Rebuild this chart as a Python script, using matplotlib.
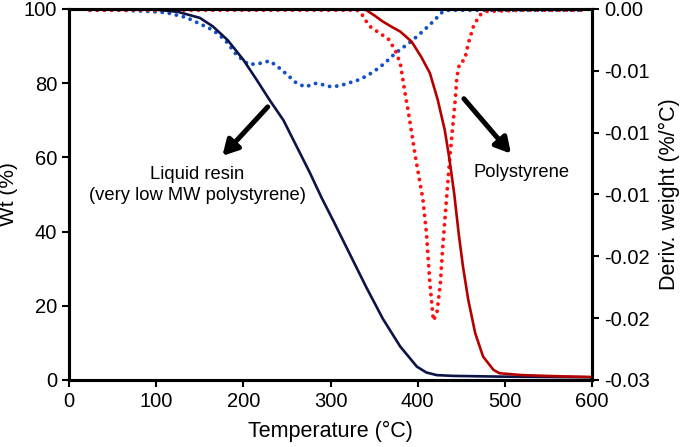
import matplotlib
matplotlib.use("Agg")
import matplotlib.pyplot as plt

plt.rcParams['font.family'] = ['Liberation Sans', 'DejaVu Sans']

# TGA weight curves (left axis, %)
T_resin = [25, 50, 75, 100, 125, 150, 165, 182, 200, 215, 230, 246, 261, 276, 290,
           303, 322, 341, 360, 380, 392, 399, 410, 422, 440, 494, 550, 600]
wt_resin = [100, 100, 100, 99.8, 99.2, 97.6, 95.3, 91.6, 86.3, 81, 75.5, 70, 63, 56,
            49, 43, 34, 25, 16.5, 9, 5.6, 3.6, 2.0, 1.3, 1.1, 0.9, 0.8, 0.7]

T_ps = [25, 100, 200, 300, 335, 341, 350, 360, 370, 380, 393, 404, 414, 423, 431,
        436, 442, 447, 452, 458, 466, 475, 487, 494, 520, 560, 600]
wt_ps = [100, 100, 100, 100, 100, 99.7, 98.3, 96.6, 95.2, 93.9, 91.2, 87.1, 82.7,
         75.5, 67.4, 60.2, 50, 39.5, 30.5, 21.6, 12.6, 6.3, 2.7, 1.8, 1.3, 1.0, 0.8]

# Derivative curves (right axis, %/°C)
T_dres = [24, 60, 93, 112, 135, 150, 165, 179, 192, 206, 219, 230, 240, 250, 261,
          271, 284, 301, 311, 334, 349, 362, 374, 393, 406, 418, 429, 436, 500,
          550, 592]
d_res = [-0.0001, -0.0001, -0.0002, -0.0003, -0.0007, -0.0012, -0.0017, -0.0025,
         -0.0037, -0.0045, -0.0044, -0.0042, -0.0047, -0.0053, -0.0060, -0.0063,
         -0.0060, -0.0063, -0.0062, -0.0057, -0.0051, -0.0044, -0.0036, -0.0026,
         -0.0018, -0.0010, -0.0002, -0.0001, -0.0001, -0.0001, -0.0001]

T_dps = [24, 100, 200, 300, 330, 334, 340, 345, 357, 366, 374, 380, 385, 389, 393,
         398, 406, 410, 414, 418, 422, 426, 429, 433, 437, 443, 445, 448, 454, 458,
         464, 471, 479, 520, 560, 590]
d_ps = [-0.0001, -0.0001, -0.0001, -0.0001, -0.0001, -0.0002, -0.0009, -0.0014,
        -0.0020, -0.0024, -0.0033, -0.0044, -0.0066, -0.0082, -0.0100, -0.0122,
        -0.0154, -0.0181, -0.0222, -0.0252, -0.0246, -0.0222, -0.0190, -0.0154,
        -0.0119, -0.0074, -0.0055, -0.0044, -0.0041, -0.0028, -0.0014, -0.0005,
        -0.0002, -0.0001, -0.0001, -0.0001]

x_ticks = [0, 100, 200, 300, 400, 500, 600]
y_ticks = [0, 20, 40, 60, 80, 100]
d_ticks = [0.0, -0.005, -0.010, -0.015, -0.020, -0.025, -0.030]
d_tick_labels = ["0.00", "-0.01", "-0.01", "-0.01", "-0.02", "-0.02", "-0.03"]

fig = plt.figure(figsize=(6.85, 4.47), dpi=100)
ax = fig.add_axes([0.1007, 0.150, 0.7636, 0.830])
ax2 = ax.twinx()

navy = "#0b1446"
dred = "#b50000"
blue = "#1050c8"
red = "#ff1010"

dot = (0, (0.01, 1.85))
ax2.plot(T_dres, d_res, color=blue, lw=2.8, linestyle=dot, dash_capstyle='round', zorder=2)
ax2.plot(T_dps, d_ps, color=red, lw=2.8, linestyle=dot, dash_capstyle='round', zorder=2)

ax.set_zorder(ax2.get_zorder() + 1)
ax.patch.set_visible(False)
ax.plot(T_resin, wt_resin, color=navy, lw=1.9, solid_capstyle='round', solid_joinstyle='round')
ax.plot(T_ps, wt_ps, color=dred, lw=1.9, solid_capstyle='round', solid_joinstyle='round')

ax.set_xlim(0, 600)
ax.set_ylim(0, 100)
ax2.set_ylim(-0.030, 0.0)
ax.set_xticks(x_ticks)
ax.set_yticks(y_ticks)
ax2.set_yticks(d_ticks)
ax2.set_yticklabels(d_tick_labels)

for a in (ax, ax2):
    for s in a.spines.values():
        s.set_linewidth(2.2)
    a.tick_params(direction='out', length=5, width=1.5, labelsize=14.5, colors='black')

ax.set_xlabel("Temperature (°C)", fontsize=15.5, labelpad=7)
ax.set_ylabel("Wt (%)", fontsize=15)
ax.yaxis.set_label_coords(-0.098, 0.5)
ax2.set_ylabel("Deriv. weight (%/°C)", fontsize=15.5, labelpad=7)

arrow_style = dict(arrowstyle="-|>,head_width=0.5,head_length=0.9",
                   color="black", lw=3.6, shrinkA=0, shrinkB=0)
ax.annotate("", xy=(176, 60.4), xytext=(228, 73.6), arrowprops=arrow_style)
ax.annotate("", xy=(507, 61.0), xytext=(453, 75.8), arrowprops=arrow_style)
ax.text(147, 52.6, "Liquid resin\n(very low MW polystyrene)", ha='center', va='center',
        fontsize=13.2, linespacing=1.3)
ax.text(519, 55.8, "Polystyrene", ha='center', va='center', fontsize=13.2)

fig.savefig("out.png", dpi=100)
